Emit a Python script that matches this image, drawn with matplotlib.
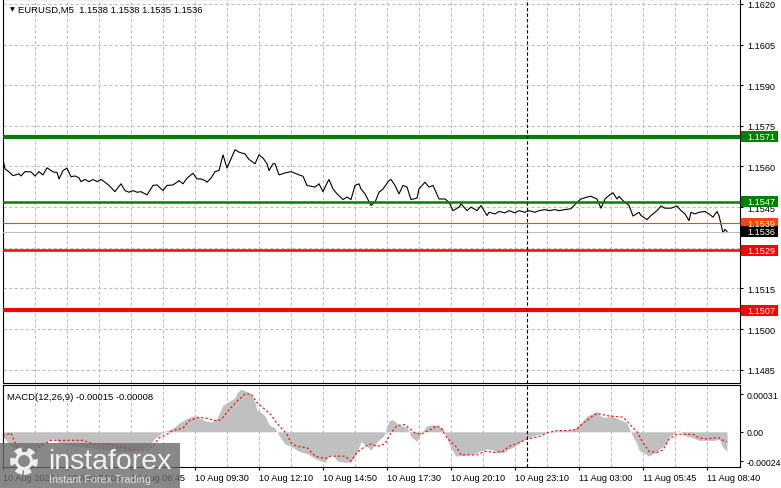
import numpy as np
import matplotlib
matplotlib.use("Agg")
import matplotlib.pyplot as plt
from matplotlib.patches import Rectangle, Circle
from matplotlib.transforms import blended_transform_factory

plt.rcParams['font.family'] = ['Liberation Sans', 'DejaVu Sans']

# ---- price data (bar index, close) ----
bars = [0, 1, 3, 5, 8, 9, 11, 14, 16, 18, 20, 22, 25, 27, 28, 30, 32, 34, 36, 38,
        39, 41, 43, 45, 47, 49, 51, 53, 56, 57, 59, 61, 63, 65, 67, 69, 72, 75, 77, 80,
        82, 85, 87, 88, 90, 92, 94, 95, 97, 99, 101, 102, 104, 106, 108, 110, 112, 114, 116, 118,
        121, 123, 126, 128, 130, 132, 133, 135, 136, 138, 141, 144, 148, 150, 152, 156, 158, 160, 162, 163,
        165, 167, 170, 172, 174, 176, 178, 179, 181, 184, 186, 188, 190, 193, 194, 196, 198, 200, 202, 204,
        207, 208, 211, 213, 215, 218, 221, 223, 225, 228, 229, 232, 234, 237, 239, 242, 243, 246, 248, 251,
        253, 256, 258, 261, 263, 266, 268, 271, 273, 276, 278, 281, 284, 287, 289, 292, 294, 297, 299, 301,
        303, 305, 307, 308, 310, 313, 315, 318, 319, 322, 324, 327, 329, 331, 334, 337, 339, 341, 343, 344,
        346, 348, 351, 353, 355, 357, 358, 360, 361, 362]
close = [1.15626, 1.15591, 1.15580, 1.15566, 1.15573, 1.15565, 1.15581, 1.15580, 1.15565, 1.15581,
         1.15569, 1.15595, 1.15580, 1.15578, 1.15554, 1.15585, 1.15594, 1.15562, 1.15565, 1.15558,
         1.15544, 1.15552, 1.15544, 1.15552, 1.15544, 1.15552, 1.15542, 1.15530, 1.15507, 1.15517,
         1.15536, 1.15511, 1.15505, 1.15511, 1.15505, 1.15507, 1.15495, 1.15530, 1.15532, 1.15511,
         1.15530, 1.15532, 1.15542, 1.15548, 1.15536, 1.15557, 1.15569, 1.15575, 1.15554, 1.15554,
         1.15548, 1.15542, 1.15557, 1.15581, 1.15585, 1.15643, 1.15594, 1.15628, 1.15662, 1.15653,
         1.15646, 1.15626, 1.15610, 1.15643, 1.15631, 1.15610, 1.15585, 1.15610, 1.15610, 1.15569,
         1.15576, 1.15581, 1.15569, 1.15564, 1.15530, 1.15524, 1.15536, 1.15507, 1.15539, 1.15552,
         1.15517, 1.15499, 1.15478, 1.15487, 1.15478, 1.15530, 1.15536, 1.15517, 1.15499, 1.15456,
         1.15468, 1.15505, 1.15517, 1.15548, 1.15552, 1.15530, 1.15499, 1.15530, 1.15524, 1.15478,
         1.15483, 1.15517, 1.15542, 1.15524, 1.15530, 1.15480, 1.15480, 1.15468, 1.15437, 1.15450,
         1.15462, 1.15437, 1.15450, 1.15437, 1.15456, 1.15419, 1.15431, 1.15425, 1.15434, 1.15429,
         1.15437, 1.15429, 1.15437, 1.15431, 1.15437, 1.15431, 1.15437, 1.15441, 1.15437, 1.15441,
         1.15437, 1.15441, 1.15444, 1.15468, 1.15480, 1.15487, 1.15490, 1.15480, 1.15446, 1.15480,
         1.15493, 1.15503, 1.15480, 1.15490, 1.15474, 1.15456, 1.15417, 1.15431, 1.15419, 1.15404,
         1.15419, 1.15437, 1.15454, 1.15446, 1.15446, 1.15454, 1.15437, 1.15425, 1.15400, 1.15431,
         1.15425, 1.15431, 1.15434, 1.15425, 1.15413, 1.15434, 1.15419, 1.15355, 1.15368, 1.15360]

# ---- MACD main (histogram) ----
macd_bar = [0, 2, 4, 8, 13, 18, 22, 24, 26, 28, 33, 38, 43, 48, 53, 58, 63, 68, 73, 76,
            78, 80, 82, 85, 88, 92, 95, 98, 101, 104, 107, 110, 113, 116, 117, 119, 122, 124, 126, 127,
            129, 131, 133, 136, 138, 141, 144, 148, 152, 156, 159, 161, 163, 165, 167, 171, 174, 177, 179, 182,
            184, 187, 190, 191, 193, 195, 197, 199, 202, 204, 207, 209, 212, 215, 220, 222, 223, 226, 227, 232,
            236, 238, 242, 245, 247, 250, 252, 256, 258, 262, 266, 271, 273, 278, 286, 287, 290, 292, 296, 297,
            298, 300, 302, 304, 307, 310, 312, 313, 315, 317, 318, 322, 323, 325, 327, 330, 332, 333, 337, 338,
            341, 345, 348, 353, 356, 358, 360, 362]
macd_main = [-0.00004, -0.00008, -0.00012, -0.00014, -0.00014, -0.00012, -0.00008, -0.00006, -0.00006, -0.00009,
             -0.00011, -0.00012, -0.00013, -0.00014, -0.00015, -0.00016, -0.00016, -0.00015, -0.00012, -0.00005,
             -0.00003, 0.00000, 0.00001, 0.00003, 0.00007, 0.00011, 0.00013, 0.00012, 0.00009, 0.00008,
             0.00011, 0.00022, 0.00025, 0.00028, 0.00032, 0.00035, 0.00033, 0.00031, 0.00024, 0.00018,
             0.00016, 0.00013, 0.00006, 0.00003, -0.00003, -0.00010, -0.00012, -0.00016, -0.00018, -0.00022,
             -0.00024, -0.00025, -0.00020, -0.00019, -0.00024, -0.00025, -0.00025, -0.00017, -0.00008, -0.00012,
             -0.00015, -0.00008, -0.00004, -0.00001, 0.00009, 0.00010, 0.00007, 0.00005, 0.00004, -0.00004,
             -0.00008, -0.00001, 0.00005, 0.00006, 0.00003, -0.00005, -0.00010, -0.00019, -0.00020, -0.00019,
             -0.00018, -0.00016, -0.00014, -0.00015, -0.00017, -0.00017, -0.00015, -0.00012, -0.00009, -0.00005,
             -0.00003, -0.00001, 0.00000, 0.00001, 0.00002, 0.00005, 0.00009, 0.00013, 0.00016, 0.00017,
             0.00014, 0.00012, 0.00012, 0.00013, 0.00011, 0.00009, 0.00007, 0.00003, -0.00004, -0.00010,
             -0.00015, -0.00019, -0.00020, -0.00018, -0.00016, -0.00012, -0.00009, -0.00004, 0.00000, 0.00001,
             -0.00003, -0.00005, -0.00007, -0.00007, -0.00007, -0.00006, -0.00013, -0.00016]

# ---- MACD signal ----
sig_bar = [0, 4, 6, 8, 15, 18, 24, 32, 40, 45, 52, 58, 65, 72, 75, 78, 82, 85, 90, 93,
           98, 102, 107, 109, 113, 117, 121, 124, 127, 134, 137, 142, 144, 147, 152, 156, 161, 164, 171, 174,
           177, 181, 184, 187, 191, 194, 197, 201, 206, 209, 214, 217, 219, 222, 227, 229, 237, 241, 246, 250,
           253, 258, 262, 268, 272, 277, 282, 287, 290, 295, 297, 300, 303, 310, 313, 317, 320, 323, 327, 330,
           333, 337, 340, 345, 348, 352, 355, 358, 361, 362]
sig_val = [-0.000036, -0.00001, -0.00009, -0.00015, -0.00017, -0.00013, -0.00007, -0.00007, -0.00007, -0.00010,
           -0.00010, -0.00012, -0.00015, -0.00015, -0.00012, -0.00005, -0.00002, 0.00001, 0.00003, 0.00009,
           0.00012, 0.00011, 0.00009, 0.00010, 0.00018, 0.00025, 0.00031, 0.00031, 0.00024, 0.00014,
           0.00007, -0.00002, -0.00009, -0.00012, -0.00013, -0.00020, -0.00022, -0.00020, -0.00020, -0.00024,
           -0.00017, -0.00012, -0.00010, -0.00012, -0.00010, -0.00001, 0.00005, 0.00006, -0.00001, -0.00002,
           0.00002, 0.00005, 0.00003, -0.00005, -0.00013, -0.00019, -0.00019, -0.00016, -0.00017, -0.00016,
           -0.00012, -0.00009, -0.00006, -0.00004, -0.00001, 0.00001, 0.00001, 0.00002, 0.00007, 0.00013,
           0.00015, 0.00014, 0.00013, 0.00012, 0.00007, 0.00000, -0.00009, -0.00016, -0.00017, -0.00015,
           -0.00006, -0.00002, -0.00002, -0.00002, -0.00005, -0.00006, -0.00005, -0.00005, -0.00008, -0.00008]

# ---- levels and labels ----
levels = [1.1571, 1.1547, 1.1539, 1.1536, 1.1529, 1.1507]
level_colors = ['#008000', '#008000', '#FF4500', '#C0C0C0', '#FF0000', '#FF0000']
level_widths = [3.0, 1.8, 0.8, 0.8, 1.8, 3.0]
box_colors = ['#008000', '#008000', '#FF4500', '#000000', '#FF0000', '#FF0000']
price_ticks = [1.1620, 1.1605, 1.1590, 1.1575, 1.1560, 1.1545, 1.1530, 1.1515, 1.1500, 1.1485]
macd_ticks = [0.00031, 0.0, -0.00024]
macd_tick_labels = ['0.00031', '0.00', '-0.00024']
time_labels = ['10 Aug 2026', '10 Aug 04:05', '10 Aug 06:45', '10 Aug 09:30', '10 Aug 12:10',
               '10 Aug 14:50', '10 Aug 17:30', '10 Aug 20:10', '10 Aug 23:10', '11 Aug 03:00',
               '11 Aug 05:45', '11 Aug 08:40']
separator_bar = 262

W, H = 781, 489
fig = plt.figure(figsize=(W / 100, H / 100), dpi=100)
ax = fig.add_axes([3 / W, (H - 384) / H, 737 / W, 384 / H])
mx = fig.add_axes([3 / W, (H - 468) / H, 737 / W, 82 / H])

grid_kw = dict(color='#C0C0C0', lw=0.8, ls=(0, (3, 2)))
xmax = 368.5
major = np.arange(0, 353, 32)
minor = np.arange(16, 353, 32)

for a in (ax, mx):
    a.set_xlim(0, xmax)
    a.set_xticks(major)
    a.set_xticks(minor, minor=True)
    a.grid(True, axis='x', which='both', **grid_kw)
    a.axvline(separator_bar, color='black', lw=0.8, ls=(0, (3, 2)), zorder=4)
    for s in a.spines.values():
        s.set_linewidth(0.8)
    a.yaxis.tick_right()
    a.tick_params(axis='y', length=2.2, width=0.8, pad=2.8, labelsize=6.6)
    a.set_axisbelow(True)

# main price panel
ax.set_ylim(1.14801, 1.16218)
ax.set_yticks(price_ticks)
ax.set_yticklabels(['%.4f' % p for p in price_ticks])
ax.grid(True, axis='y', **grid_kw)
ax.tick_params(axis='x', which='both', length=0, labelbottom=False)

for lv, c, w in zip(levels, level_colors, level_widths):
    ax.axhline(lv, color=c, lw=w, zorder=3)
ax.plot(bars, close, color='black', lw=0.8, zorder=2.5)

tr = blended_transform_factory(ax.transAxes, ax.transData)
box_h = 11 * 0.0000369
for lv, c in zip(levels, box_colors):
    ax.add_patch(Rectangle((1.0014, lv - box_h / 2), 0.0502, box_h, transform=tr,
                           fc=c, ec='none', clip_on=False, zorder=10))
    ax.text(1.0095, lv, '%.4f' % lv, transform=tr, color='white', fontsize=6.6,
            va='center', ha='left', clip_on=False, zorder=11)

ax.text(0.0095, 0.974, '\u25bc', transform=ax.transAxes, fontsize=4.5, va='center',
        family=['DejaVu Sans'])
ax.text(0.0204, 0.974, 'EURUSD,M5  1.1538 1.1538 1.1535 1.1536', transform=ax.transAxes,
        fontsize=6.8, va='center')

# MACD panel
mx.set_ylim(-0.000289, 0.000384)
mx.set_yticks(macd_ticks)
mx.set_yticklabels(macd_tick_labels)
mx.tick_params(axis='y', labelsize=6.3, pad=2.4)
mx.fill_between(macd_bar, macd_main, 0, color='#C0C0C0', lw=0, zorder=2)
mx.plot(sig_bar, sig_val, color='#FF0000', lw=0.8, ls=(0, (2, 2)), zorder=3)
mx.text(0.0054, 0.86, 'MACD(12,26,9) -0.00015 -0.00008', transform=mx.transAxes,
        fontsize=6.8, va='center')
mx.set_xticklabels(time_labels)
mx.tick_params(axis='x', which='major', length=2.5, width=0.8, pad=1.5, labelsize=6.6)
mx.tick_params(axis='x', which='minor', length=0)
for lbl in mx.get_xticklabels():
    lbl.set_ha('left')

# watermark
fig.add_artist(Rectangle((0, 0), 180 / W, 45 / H, transform=fig.transFigure,
                         fc='#6b6b6b', ec='none', alpha=0.8, zorder=20))
fig.add_artist(Circle((0.24, 0.27), 0.11, transform=fig.dpi_scale_trans, fill=False,
                      ec='#eeeeee', lw=4, ls=(0, (1.2, 1.0)), zorder=21))
fig.add_artist(Circle((0.24, 0.27), 0.075, transform=fig.dpi_scale_trans, fill=False,
                      ec='#eeeeee', lw=2.2, zorder=21))
fig.text(48 / W, (H - 462) / H, 'instaforex', fontsize=20.5, color='#f2f2f2',
         va='center', ha='left', zorder=21)
fig.text(49 / W, (H - 480) / H, 'Instant Forex Trading', fontsize=7.7, color='#dddddd',
         va='center', ha='left', zorder=21)

fig.savefig('out.png', dpi=100)
